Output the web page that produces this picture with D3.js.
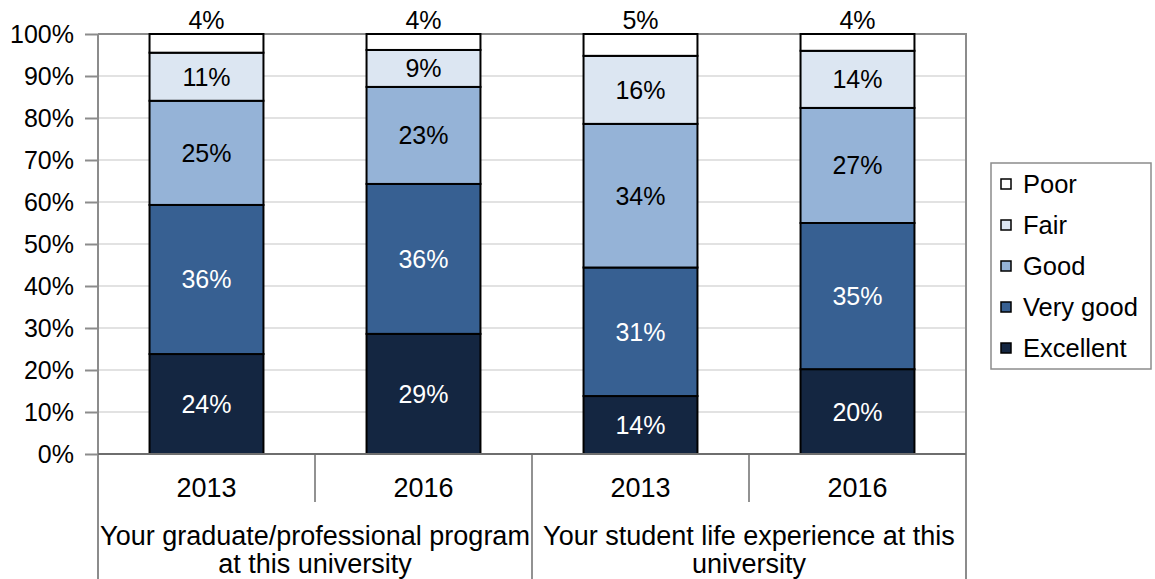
<!DOCTYPE html>
<html>
<head>
<meta charset="utf-8">
<script src="https://cdn.jsdelivr.net/npm/d3@7"></script>
<style>
  body { margin: 0; background: #fff; }
  svg text { font-family: "Liberation Sans", Arial, sans-serif; }
</style>
</head>
<body>
<svg id="chart" width="1155" height="579"></svg>
<script>
// categories (bars), years and groups
const bars = ["g1-2013", "g1-2016", "g2-2013", "g2-2016"]
const years = ["2013", "2016", "2013", "2016"]
const groups = [["Your graduate/professional program", "at this university"],
                ["Your student life experience at this", "university"]]

// series, bottom to top
const series = ["Excellent", "Very good", "Good", "Fair", "Poor"]
const excellent = [23.8, 28.6, 13.8, 20.2]
const veryGood  = [35.5, 35.7, 30.6, 34.8]
const good      = [24.8, 23.1, 34.2, 27.4]
const fair      = [11.45, 8.8, 16.2, 13.6]
const poor      = [4.45, 3.8, 5.2, 4.0]
const yTicks = [0, 10, 20, 30, 40, 50, 60, 70, 80, 90, 100]

const colors = ["#142641", "#376092", "#95b3d7", "#dce6f2", "#ffffff"]
const textColors = ["#fff", "#fff", "#000", "#000", "#000"]

let margin = {top: 34, left: 98, right: 189, bottom: 125}
let width = 1155, height = 579
let w = width - margin.left - margin.right
let h = height - margin.top - margin.bottom

let svg = d3.select("#chart")

let table = bars.map((b, i) => ({
  bar: b,
  "Excellent": excellent[i], "Very good": veryGood[i], "Good": good[i],
  "Fair": fair[i], "Poor": poor[i]
}))
let stacked = d3.stack().keys(series)(table)

let xScale = d3.scaleBand().domain(bars).range([0, w]).paddingInner(0.475).paddingOuter(0.2375)
let yScale = d3.scaleLinear().domain([0, 100]).range([h, 0])

let plot = svg.append("g").attr("transform", "translate(" + margin.left + "," + margin.top + ")")

// gridlines
plot.append("g").selectAll("line")
  .data(yTicks.slice(1, -1))
  .join("line")
  .attr("x1", 0).attr("x2", w)
  .attr("y1", d => yScale(d)).attr("y2", d => yScale(d))
  .attr("stroke", "#d9d9d9").attr("stroke-width", 1.5)

// plot frame (top + right)
plot.append("path")
  .attr("d", "M0," + yScale(100) + "H" + w + "V" + (height - margin.top))
  .attr("fill", "none").attr("stroke", "#8c8c8c").attr("stroke-width", 2)

// y axis
let yAxis = plot.append("g")
  .call(d3.axisLeft(yScale).tickValues(yTicks).tickSize(13).tickFormat(d => d + "%"))
yAxis.select(".domain").remove()
yAxis.selectAll(".tick line").attr("stroke", "#8c8c8c").attr("stroke-width", 2)
yAxis.selectAll(".tick text").attr("font-size", 25).attr("fill", "#000").attr("x", -24)
plot.append("line")
  .attr("x1", 0).attr("x2", 0).attr("y1", 0).attr("y2", height - margin.top)
  .attr("stroke", "#8c8c8c").attr("stroke-width", 2)

// bars
let layers = plot.append("g").selectAll("g")
  .data(stacked)
  .join("g")
  .attr("fill", (d, i) => colors[i])

layers.selectAll("rect")
  .data(d => d)
  .join("rect")
  .attr("x", d => xScale(d.data.bar))
  .attr("y", d => yScale(d[1]))
  .attr("width", xScale.bandwidth())
  .attr("height", d => yScale(d[0]) - yScale(d[1]))
  .attr("stroke", "#000").attr("stroke-width", 2)

// value labels
stacked.forEach((layer, si) => {
  plot.append("g").selectAll("text")
    .data(layer)
    .join("text")
    .attr("x", d => xScale(d.data.bar) + xScale.bandwidth() / 2)
    .attr("y", d => si == series.length - 1 ? yScale(100) - 14 : yScale((d[0] + d[1]) / 2))
    .attr("dy", "0.36em")
    .attr("text-anchor", "middle")
    .attr("font-size", 25)
    .attr("fill", textColors[si])
    .text(d => Math.round(d.data[layer.key]) + "%")
})

// x axis baseline
plot.append("line")
  .attr("x1", 0).attr("x2", w).attr("y1", h).attr("y2", h)
  .attr("stroke", "#6e6e6e").attr("stroke-width", 2)

// category dividers
let step = xScale.step()
let dividers = [1, 2, 3]
plot.append("g").selectAll("line")
  .data(dividers)
  .join("line")
  .attr("x1", d => d * step).attr("x2", d => d * step)
  .attr("y1", h).attr("y2", d => d == 2 ? height - margin.top : h + 48)
  .attr("stroke", "#6e6e6e").attr("stroke-width", 1.5)

// year labels
plot.append("g").selectAll("text")
  .data(bars)
  .join("text")
  .attr("x", d => xScale(d) + xScale.bandwidth() / 2)
  .attr("y", h + 33)
  .attr("dy", "0.36em")
  .attr("text-anchor", "middle")
  .attr("font-size", 27)
  .text((d, i) => years[i])

// group labels
groups.forEach((lines, gi) => {
  let cx = (gi * 2 + 1) * step
  lines.forEach((ln, li) => {
    plot.append("text")
      .attr("x", cx)
      .attr("y", h + 81 + li * 28)
      .attr("dy", "0.36em")
      .attr("text-anchor", "middle")
      .attr("font-size", 27)
      .text(ln)
  })
})

// legend
let legend = svg.append("g").attr("transform", "translate(991,163)")
legend.append("rect")
  .attr("width", 160).attr("height", 206)
  .attr("fill", "#fff").attr("stroke", "#8c8c8c").attr("stroke-width", 1.5)
let items = legend.selectAll("g.item")
  .data(series.slice().reverse())
  .join("g")
  .attr("class", "item")
  .attr("transform", (d, i) => "translate(10," + (21 + i * 41) + ")")
items.append("rect")
  .attr("x", 0).attr("y", -5).attr("width", 10).attr("height", 10)
  .attr("fill", d => colors[series.indexOf(d)])
  .attr("stroke", "#000").attr("stroke-width", 1.5)
items.append("text")
  .attr("x", 22).attr("dy", "0.36em")
  .attr("font-size", 25.5)
  .text(d => d)
</script>
</body>
</html>
